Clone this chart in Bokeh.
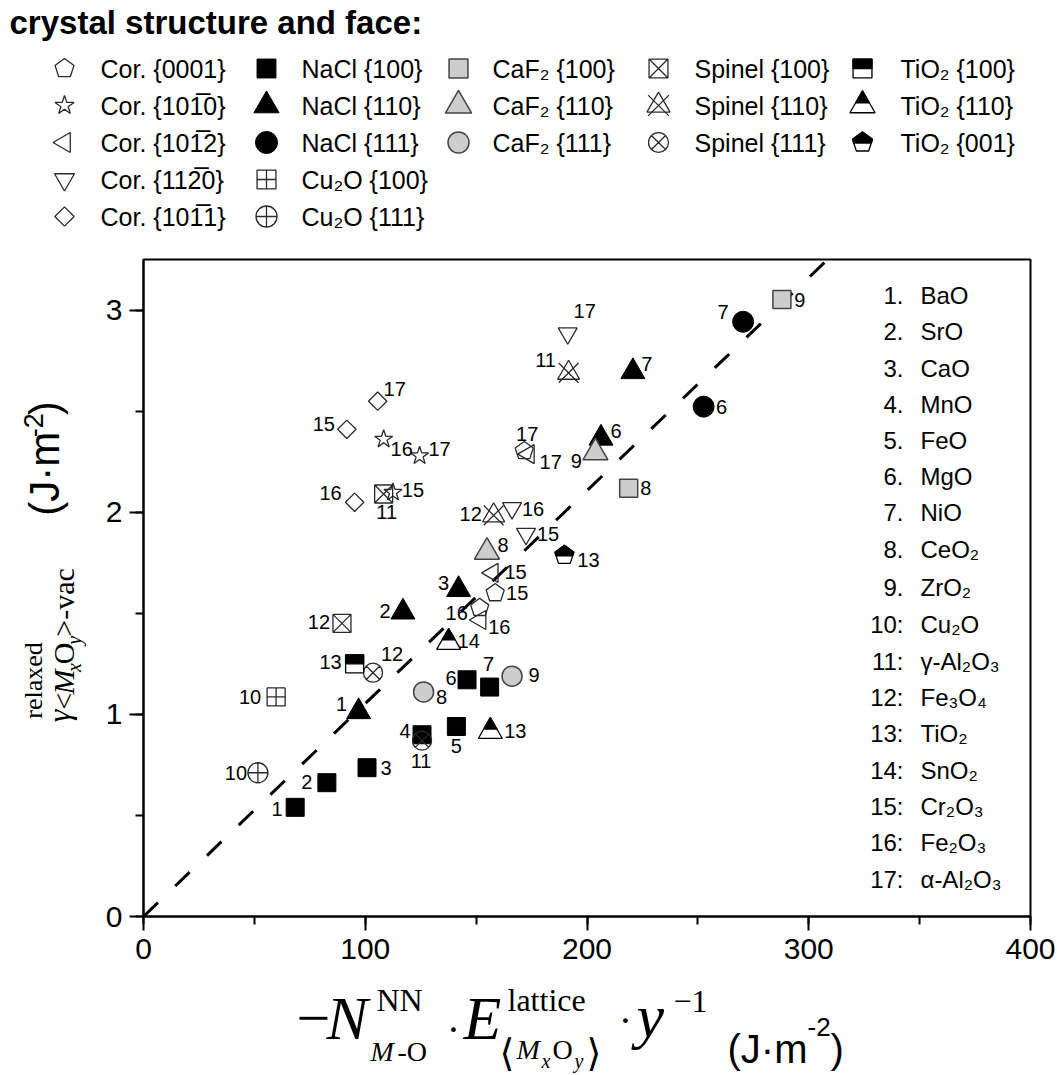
import math
from bokeh.plotting import figure
from bokeh.layouts import column, row
from bokeh.models import Range1d, SingleIntervalTicker, ColumnDataSource
from bokeh.embed import file_html
from bokeh.resources import INLINE
from bokeh.core.properties import value

SANS = "Liberation Sans"
SERIF = "Liberation Serif"

# ---------------- data ----------------
# Corundum faces (open symbols)
cor0001_x = [158.6, 151.6, 171.7]
cor0001_y = [1.600, 1.527, 2.303]
cor0001_id = ["15", "16", "17"]
cor1010_x = [112.5, 108.3, 124.5]
cor1010_y = [2.098, 2.361, 2.279]
cor1010_id = ["15", "16", "17"]
cor1012_x = [157.4, 151.9, 173.7]
cor1012_y = [1.700, 1.467, 2.287]
cor1012_id = ["15", "16", "17"]
cor1120_x = [172.5, 166.2, 191.3]
cor1120_y = [1.893, 2.020, 2.885]
cor1120_id = ["15", "16", "17"]
cor1011_x = [91.7, 95.2, 105.6]
cor1011_y = [2.410, 2.049, 2.549]
cor1011_id = ["15", "16", "17"]
# NaCl structure
nacl100_x = [68.4, 82.7, 100.8, 125.6, 141.1, 145.9, 156.1]
nacl100_y = [0.540, 0.662, 0.736, 0.899, 0.940, 1.171, 1.135]
nacl100_id = ["1", "2", "3", "4", "5", "6", "7"]
nacl110_x = [97.0, 117.0, 142.1, 206.3, 220.7]
nacl110_y = [1.013, 1.506, 1.617, 2.366, 2.695]
nacl110_id = ["1", "2", "3", "6", "7"]
nacl111_x = [252.6, 270.4]
nacl111_y = [2.522, 2.942]
nacl111_id = ["6", "7"]
# Cu2O
cu2o100_x = [59.8]
cu2o100_y = [1.086]
cu2o100_id = ["10"]
cu2o111_x = [51.6]
cu2o111_y = [0.711]
cu2o111_id = ["10"]
# CaF2 (fluorite)
caf2100_x = [218.8, 287.9]
caf2100_y = [2.119, 3.052]
caf2100_id = ["8", "9"]
caf2110_x = [154.9, 203.8]
caf2110_y = [1.803, 2.295]
caf2110_id = ["8", "9"]
caf2111_x = [126.3, 166.2]
caf2111_y = [1.111, 1.189]
caf2111_id = ["8", "9"]
# Spinel
sp100_x = [108.3, 89.5]
sp100_y = [2.090, 1.450]
sp100_id = ["11", "12"]
sp110_x = [191.7, 157.9]
sp110_y = [2.689, 1.984]
sp110_id = ["11", "12"]
sp111_x = [125.6, 103.5]
sp111_y = [0.870, 1.206]
sp111_id = ["11", "12"]
# TiO2 (rutile)
ti100_x = [95.2]
ti100_y = [1.250]
ti100_id = ["13"]
ti110_x = [156.4, 137.6]
ti110_y = [0.915, 1.356]
ti110_id = ["13", "14"]
ti001_x = [189.8]
ti001_y = [1.787]
ti001_id = ["13"]
# dashed guide line
fit_x = [0.0, 308.5]
fit_y = [0.0, 3.25]

oxide_no = ["1.", "2.", "3.", "4.", "5.", "6.", "7.", "8.", "9.", "10:", "11:",
            "12:", "13:", "14:", "15:", "16:", "17:"]
oxide_name = ["BaO", "SrO", "CaO", "MnO", "FeO", "MgO", "NiO", "CeO\u2082", "ZrO\u2082",
              "Cu\u2082O", "\u03b3-Al\u2082O\u2083", "Fe\u2083O\u2084", "TiO\u2082", "SnO\u2082",
              "Cr\u2082O\u2083", "Fe\u2082O\u2083", "\u03b1-Al\u2082O\u2083"]

legend_title = "crystal structure and face:"
legend_cols = [
    [("cor0001", "Cor. {0001}"), ("cor1010", "Cor. {101\u03050}"), ("cor1012", "Cor. {101\u03052}"),
     ("cor1120", "Cor. {112\u03050}"), ("cor1011", "Cor. {101\u03051}")],
    [("nacl100", "NaCl {100}"), ("nacl110", "NaCl {110}"), ("nacl111", "NaCl {111}"),
     ("cu2o100", "Cu\u2082O {100}"), ("cu2o111", "Cu\u2082O {111}")],
    [("caf2100", "CaF\u2082 {100}"), ("caf2110", "CaF\u2082 {110}"), ("caf2111", "CaF\u2082 {111}")],
    [("sp100", "Spinel {100}"), ("sp110", "Spinel {110}"), ("sp111", "Spinel {111}")],
    [("ti100", "TiO\u2082 {100}"), ("ti110", "TiO\u2082 {110}"), ("ti001", "TiO\u2082 {001}")],
]

# label offsets next to the points (screen pixels) -- layout only
off = {
    "cor0001": ([22, -23, 3], [0, 5, -17]),
    "cor1010": ([20, 18, 20], [-2, 10, -7]),
    "cor1012": ([23, 19, 22], [-1, 7, 8]),
    "cor1120": ([22, 21, 17], [0, 1, -22]),
    "cor1011": ([-23, -24, 17], [-5, -9, -12]),
    "nacl100": ([-18, -20, 19, -17, 0, -16, -1], [2, -1, 0, -4, 20, -2, -23]),
    "nacl110": ([-17, -18, -15, 15, 14], [-8, -1, -7, -7, -8]),
    "nacl111": ([18, -20], [0, -10]),
    "cu2o100": ([-26], [0]),
    "cu2o111": ([-22], [0]),
    "caf2100": ([17, 18], [0, 0]),
    "caf2110": ([16, -19], [-7, 8]),
    "caf2111": ([18, 22], [5, -1]),
    "sp100": ([3, -23], [18, -1]),
    "sp110": ([-23, -23], [-13, -1]),
    "sp111": ([-1, 19], [20, -19]),
    "ti100": ([-24], [-2]),
    "ti110": ([25, 20], [-1, -1]),
    "ti001": ([24], [5]),
}

series = [
    ("cor0001", cor0001_x, cor0001_y, cor0001_id),
    ("cor1010", cor1010_x, cor1010_y, cor1010_id),
    ("cor1012", cor1012_x, cor1012_y, cor1012_id),
    ("cor1120", cor1120_x, cor1120_y, cor1120_id),
    ("cor1011", cor1011_x, cor1011_y, cor1011_id),
    ("nacl100", nacl100_x, nacl100_y, nacl100_id),
    ("nacl110", nacl110_x, nacl110_y, nacl110_id),
    ("nacl111", nacl111_x, nacl111_y, nacl111_id),
    ("cu2o100", cu2o100_x, cu2o100_y, cu2o100_id),
    ("cu2o111", cu2o111_x, cu2o111_y, cu2o111_id),
    ("caf2100", caf2100_x, caf2100_y, caf2100_id),
    ("caf2110", caf2110_x, caf2110_y, caf2110_id),
    ("caf2111", caf2111_x, caf2111_y, caf2111_id),
    ("sp100", sp100_x, sp100_y, sp100_id),
    ("sp110", sp110_x, sp110_y, sp110_id),
    ("sp111", sp111_x, sp111_y, sp111_id),
    ("ti100", ti100_x, ti100_y, ti100_id),
    ("ti110", ti110_x, ti110_y, ti110_id),
    ("ti001", ti001_x, ti001_y, ti001_id),
]

# ---------------- geometry ----------------
W = 1057
TOP_H = 245
MID_H = 731
BOT_H = 1075 - TOP_H - MID_H
YL_W = 90
BL, BR, BT, BB = 53, 27, 14, 60
FW = W - YL_W - BL - BR   # frame width (px)
FH = MID_H - BT - BB      # frame height (px)
XMAX, YMAX = 400.0, 3.25
SX = XMAX / FW            # data per px
SY = YMAX / FH
FRAME_LEFT_PAGE = YL_W + BL
FRAME_BOTTOM_PAGE = TOP_H + BT + FH

OPEN = "#2a2a2a"
GRAY = "#cdcdcd"
GRAY_LINE = "#444444"
LW = 1.3


def pent_pts(cx, cy, r, sx, sy, clip=None):
    pts = [(r * math.cos(math.radians(90 + 72 * k)), r * math.sin(math.radians(90 + 72 * k)))
           for k in range(5)]
    if clip is not None:
        out = []
        n = len(pts)
        for i in range(n):
            a = pts[i]
            b = pts[(i + 1) % n]
            ai = a[1] >= clip
            bi = b[1] >= clip
            if ai:
                out.append(a)
            if ai != bi:
                t = (clip - a[1]) / (b[1] - a[1])
                out.append((a[0] + t * (b[0] - a[0]), clip))
        pts = out
    return [cx + px * sx for px, _ in pts], [cy + py * sy for _, py in pts]


def draw_symbol(fig, kind, xs, ys, sx, sy, k=1.0):
    if kind == "cor0001":
        P = [pent_pts(x, y, 9.5 * k, sx, sy) for x, y in zip(xs, ys)]
        fig.patches([a for a, _ in P], [b for _, b in P], fill_alpha=0, line_color=OPEN, line_width=LW)
    elif kind == "cor1010":
        fig.scatter(xs, ys, marker="star", size=19 * k, fill_alpha=0, line_color=OPEN, line_width=LW)
    elif kind == "cor1012":
        fig.scatter(xs, ys, marker="triangle", angle=math.pi / 2, size=19 * k, fill_alpha=0,
                    line_color=OPEN, line_width=LW)
    elif kind == "cor1120":
        fig.scatter(xs, ys, marker="inverted_triangle", size=19 * k, fill_alpha=0,
                    line_color=OPEN, line_width=LW)
    elif kind == "cor1011":
        fig.scatter(xs, ys, marker="square", angle=math.pi / 4, size=13 * k, fill_alpha=0,
                    line_color=OPEN, line_width=LW)
    elif kind == "nacl100":
        fig.scatter(xs, ys, marker="square", size=18 * k, fill_color="black", line_color="black")
    elif kind == "nacl110":
        fig.scatter(xs, ys, marker="triangle", size=24 * k, fill_color="black", line_color="black")
    elif kind == "nacl111":
        fig.scatter(xs, ys, marker="circle", size=21 * k, fill_color="black", line_color="black")
    elif kind == "cu2o100":
        fig.scatter(xs, ys, marker="square_cross", size=18 * k, fill_alpha=0, line_color=OPEN, line_width=LW)
    elif kind == "cu2o111":
        fig.scatter(xs, ys, marker="circle_cross", size=20 * k, fill_alpha=0, line_color=OPEN, line_width=LW)
    elif kind == "caf2100":
        fig.scatter(xs, ys, marker="square", size=18 * k, fill_color=GRAY, line_color=GRAY_LINE, line_width=1.5)
    elif kind == "caf2110":
        fig.scatter(xs, ys, marker="triangle", size=25 * k, fill_color=GRAY, line_color=GRAY_LINE, line_width=1.5)
    elif kind == "caf2111":
        fig.scatter(xs, ys, marker="circle", size=20 * k, fill_color=GRAY, line_color=GRAY_LINE, line_width=1.5)
    elif kind == "sp100":
        fig.scatter(xs, ys, marker="square_x", size=18 * k, fill_alpha=0, line_color=OPEN, line_width=LW)
    elif kind == "sp110":
        fig.scatter(xs, ys, marker="triangle", size=22 * k, fill_alpha=0, line_color=OPEN, line_width=LW)
        fig.scatter(xs, ys, marker="x", size=28 * k, line_color=OPEN, line_width=LW)
    elif kind == "sp111":
        fig.scatter(xs, ys, marker="circle_x", size=19 * k, fill_alpha=0, line_color=OPEN, line_width=LW)
    elif kind == "ti100":
        fig.scatter(xs, ys, marker="square", size=18 * k, fill_color="white", line_color="black", line_width=LW)
        fig.rect(xs, [y + 4.5 * k * sy for y in ys], width=18 * k, height=9 * k,
                 width_units="screen", height_units="screen",
                 fill_color="black", line_color="black", line_width=LW)
    elif kind == "ti110":
        fig.scatter(xs, ys, marker="triangle", size=24 * k, fill_color="white", line_color="black", line_width=LW)
        d = 1.155 * 12 * k * (1 - 0.55)
        fig.scatter(xs, [y + d * sy for y in ys], marker="triangle", size=24 * k * 0.55,
                    fill_color="black", line_color="black", line_width=LW)
    elif kind == "ti001":
        P = [pent_pts(x, y, 10 * k, sx, sy) for x, y in zip(xs, ys)]
        fig.patches([a for a, _ in P], [b for _, b in P], fill_color="white", line_color="black", line_width=LW)
        Q = [pent_pts(x, y, 10 * k, sx, sy, clip=-0.5 * k) for x, y in zip(xs, ys)]
        fig.patches([a for a, _ in Q], [b for _, b in Q], fill_color="black", line_color="black", line_width=LW)


def put(fig, x, y, s, font, size, style="normal", align="left", baseline="alphabetic", angle=0.0):
    # (x, y) is the alphabetic baseline position; drawn with a "middle" baseline
    if baseline == "alphabetic":
        if angle == 0.0:
            y = y - 0.32 * size
        else:
            x = x - 0.32 * size
    fig.text(x=[x], y=[y], text=[s], text_font=value(font), text_font_size=value(f"{size}px"),
             text_font_style=style, text_align=align, text_baseline="middle", angle=angle,
             text_color="black")


def blank_fig(w, h):
    f = figure(width=w, height=h, x_range=Range1d(0, w), y_range=Range1d(h, 0),
               output_backend="svg", toolbar_location=None, min_border=0,
               min_border_left=0, min_border_right=0, min_border_top=0, min_border_bottom=0,
               x_axis_location=None, y_axis_location=None)
    f.xgrid.visible = False
    f.ygrid.visible = False
    f.outline_line_color = None
    f.background_fill_color = "white"
    f.border_fill_color = "white"
    return f


# ---------------- top legend ----------------
lg = blank_fig(W, TOP_H)
put(lg, 9, 22, legend_title, SANS, 33, style="bold", baseline="middle")
col_mx = [64, 266, 458, 658, 862]
col_tx = [100, 301, 492, 694, 900]
row_y = [68, 105, 142, 179, 216]
for ci, entries in enumerate(legend_cols):
    for ri, (kind, lab) in enumerate(entries):
        draw_symbol(lg, kind, [col_mx[ci]], [row_y[ri]], 1.0, -1.0, k=1.05)
        put(lg, col_tx[ci], row_y[ri], lab, SANS, 25, baseline="middle")

# ---------------- main plot ----------------
p = figure(width=W - YL_W, height=MID_H, x_range=Range1d(0, XMAX), y_range=Range1d(0, YMAX),
           output_backend="svg", toolbar_location=None,
           min_border_left=BL, min_border_right=BR, min_border_top=BT, min_border_bottom=BB)
p.xgrid.visible = False
p.ygrid.visible = False
p.outline_line_color = "black"
p.outline_line_width = 2
p.xaxis.ticker = SingleIntervalTicker(interval=100, num_minor_ticks=2)
p.yaxis.ticker = SingleIntervalTicker(interval=1, num_minor_ticks=2)
for ax in (p.xaxis[0], p.yaxis[0]):
    ax.axis_line_width = 2
    ax.major_tick_line_width = 2
    ax.minor_tick_line_width = 2
    ax.major_tick_out = 14
    ax.major_tick_in = 0
    ax.minor_tick_out = 8
    ax.minor_tick_in = 0
    ax.major_label_text_font = SANS
    ax.major_label_text_font_size = "30px"
    ax.major_label_text_color = "black"
    ax.axis_line_color = "black"
    ax.major_tick_line_color = "black"
    ax.minor_tick_line_color = "black"
p.xaxis.major_label_standoff = 8
p.yaxis.major_label_standoff = 7

p.line(fit_x, fit_y, line_color="black", line_width=3, line_dash="20 24")

lab_x, lab_y, lab_t, lab_dx, lab_dy = [], [], [], [], []
for kind, xs, ys, ids in series:
    draw_symbol(p, kind, xs, ys, SX, SY, k=1.0)
    dxs, dys = off[kind]
    lab_x += xs
    lab_y += ys
    lab_t += ids
    lab_dx += dxs
    lab_dy += dys
src = ColumnDataSource(dict(x=lab_x, y=lab_y, t=lab_t, dx=lab_dx, dy=lab_dy))
p.text(x="x", y="y", text="t", x_offset="dx", y_offset="dy", source=src,
       text_font=value(SANS), text_font_size=value("20px"), text_align="center",
       text_baseline="middle", text_color="black")


def px2x(px):
    return (px - FRAME_LEFT_PAGE) * SX


def py2y(py):
    return (FRAME_BOTTOM_PAGE - py) * SY


row_page_y = [295, 331, 368, 404, 440, 476, 512, 549, 587, 624, 661, 697, 733, 770, 806, 842, 879]
p.text(x=[px2x(903)] * len(oxide_no), y=[py2y(v) for v in row_page_y], text=oxide_no,
       text_font=value(SANS), text_font_size=value("24px"), text_align="right",
       text_baseline="middle", text_color="black")
p.text(x=[px2x(920)] * len(oxide_name), y=[py2y(v) for v in row_page_y], text=oxide_name,
       text_font=value(SANS), text_font_size=value("24px"), text_align="left",
       text_baseline="middle", text_color="black")

# ---------------- y label (rotated) ----------------
yl = blank_fig(YL_W, MID_H)
A = math.pi / 2
y0 = 760 - TOP_H
put(yl, 69, y0, "\u03b3", SERIF, 32, style="italic", angle=A)
put(yl, 41, y0 - 4, "relaxed", SERIF, 26, angle=A)
yy = y0 - 14
for s, size, st, bx in [("<", 30, "normal", 73), ("M", 30, "italic", 73), ("x", 20, "italic", 80),
                        ("O", 30, "normal", 73), ("y", 20, "italic", 80), (">-vac", 30, "normal", 73)]:
    put(yl, bx, yy, s, SERIF, size, style=st, angle=A)
    adv = {"<": 0.564, "M": 0.833, "x": 0.444, "O": 0.722, "y": 0.444, ">-vac": 2.285}[s]
    yy -= adv * size
yy = 530 - TOP_H
put(yl, 57, yy, "(J\u00b7m", SANS, 42, angle=A)
yy -= 2.08 * 42
put(yl, 42, yy, "-2", SANS, 27, angle=A)
yy -= 0.9 * 27
put(yl, 57, yy, ")", SANS, 42, angle=A)

# ---------------- x label ----------------
xl = blank_fig(W, BOT_H)
o = TOP_H + MID_H
put(xl, 296, 1037 - o, "\u2212", SERIF, 60)
put(xl, 326, 1037 - o, "N", SERIF, 62, style="italic")
put(xl, 376, 1010 - o, "NN", SERIF, 32)
put(xl, 370, 1060 - o, "M", SERIF, 28, style="italic")
put(xl, 397, 1060 - o, "-O", SERIF, 28)
put(xl, 453, 1042 - o, "\u00b7", SERIF, 40, align="center")
put(xl, 463, 1037 - o, "E", SERIF, 62, style="italic")
put(xl, 507, 1010 - o, "lattice", SERIF, 32)
put(xl, 499, 1065 - o, "\u27e8", "DejaVu Sans", 38)
put(xl, 516, 1058 - o, "M", SERIF, 28, style="italic")
put(xl, 541, 1067 - o, "x", SERIF, 20, style="italic")
put(xl, 552, 1058 - o, "O", SERIF, 28)
put(xl, 574, 1067 - o, "y", SERIF, 20, style="italic")
put(xl, 586, 1065 - o, "\u27e9", "DejaVu Sans", 38)
put(xl, 625, 1033 - o, "\u00b7", SERIF, 40, align="center")
put(xl, 636, 1035 - o, "y", SERIF, 62, style="italic")
put(xl, 673, 1011 - o, "\u22121", SERIF, 32)
put(xl, 727, 1061 - o, "(J\u00b7m", SANS, 40)
put(xl, 807, 1035 - o, "-2", SANS, 26)
put(xl, 830, 1061 - o, ")", SANS, 40)

layout = column(lg, row(yl, p), xl)
open("out.html", "w").write(file_html(layout, INLINE))
